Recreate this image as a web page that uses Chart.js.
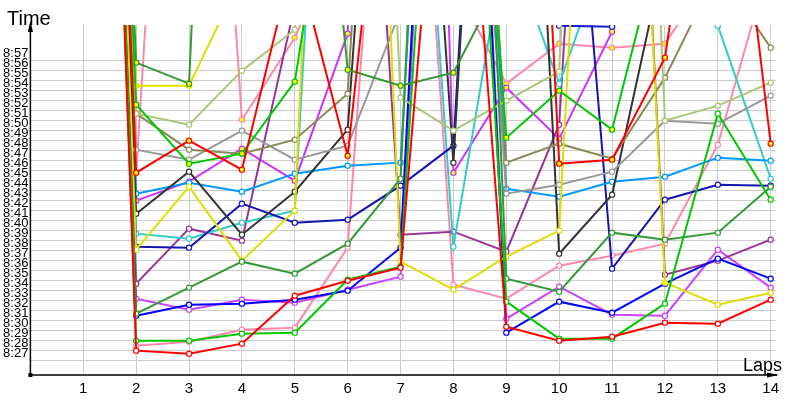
<!DOCTYPE html>
<html>
<head>
<meta charset="utf-8">
<script src="https://cdn.jsdelivr.net/npm/chart.js@4.4.0/dist/chart.umd.min.js"></script>
<style>
html,body{margin:0;padding:0;background:#fff;}
canvas{display:block;}
</style>
</head>
<body>
<canvas id="c" width="800" height="400"></canvas>
<script>
// Laps (x categories) and y tick values (lap time in seconds, shown as m:ss)
const laps = [1,2,3,4,5,6,7,8,9,10,11,12,13,14];
const yTickValues = [507,508,509,510,511,512,513,514,515,516,517,518,519,520,521,522,523,524,525,526,527,528,529,530,531,532,533,534,535,536,537];

// Lap times in seconds per competitor (values above 540 run off the top of the chart)
const redA     = [655, 508.0, 507.7, 508.7, 513.5, 515.0, 516.3, 579, 510.4, 509.0, 509.4, 510.8, 510.7, 513.1];
const redB     = [655, 525.8, 529.0, 526.1, 547.8, 527.5, 576.6, 600, 631.5, 526.7, 527.1, 537.3, 573, 528.7];
const green    = [655, 532.6, 526.7, 527.7, 534.9, 568.4, 600, 600, 529.3, 534.0, 530.1, 550.9, 600, 600];
const green2   = [655, 509.0, 509.0, 509.7, 509.8, 515.1, 516.4, 600, 512.9, 509.2, 509.2, 512.7, 531.7, 523.1];
const dkGreen  = [655, 536.8, 534.7, 650, 590, 536.1, 534.5, 535.8, 546, 600, 600, 600, 600, 600];
const dkGreen2 = [655, 511.7, 514.3, 516.9, 515.7, 518.7, 525.2, 640, 515.2, 513.9, 519.8, 519.1, 519.8, 524.4];
const yellow   = [655, 534.5, 534.5, 545.5, 600, 600, 600, 600, 600, 600, 600, 600, 600, 600];
const yellow2  = [655, 518.1, 524.4, 517.0, 522.0, 640, 516.9, 514.1, 517.4, 520.0, 620, 514.8, 512.6, 513.8];
const ltOlive  = [655, 531.7, 530.6, 536.0, 540.1, 650, 533.3, 530.0, 533.0, 535.9, 650, 531.0, 532.5, 534.8];
const olive    = [655, 531.7, 528.1, 527.7, 529.1, 533.7, 620, 620, 526.8, 528.7, 527.2, 535.3, 546, 538.3];
const gray     = [655, 528.1, 527.1, 530.0, 527.1, 528.5, 542, 600, 523.7, 524.6, 525.9, 531.0, 530.7, 533.5];
const dkGray   = [655, 521.7, 525.9, 519.6, 523.9, 530.1, 605, 526.8, 620, 517.7, 523.6, 547.8, 570, 570];
const azure    = [655, 523.7, 524.8, 523.9, 525.7, 526.5, 526.8, 620, 524.2, 523.4, 524.9, 525.4, 527.3, 527.0];
const navy     = [655, 518.4, 518.3, 522.7, 520.8, 521.1, 524.5, 528.5, 620, 580, 516.2, 523.1, 524.6, 524.5];
const blue     = [655, 511.5, 512.6, 512.7, 513.1, 514.0, 518.3, 620, 509.8, 512.9, 511.8, 514.7, 517.2, 515.2];
const blue3    = [655, 600, 600, 600, 600, 600, 600, 600, 600, 540.5, 540.4, 600, 600, 600];
const cyan     = [655, 519.7, 519.2, 520.8, 522.0, 615, 593, 518.4, 549.5, 534.7, 549.5, 560, 540.5, 525.2];
const purple   = [655, 514.7, 520.2, 519.0, 542.5, 600, 519.6, 519.9, 517.9, 530.6, 620, 515.6, 517.0, 519.1];
const violet   = [655, 523.0, 524.9, 528.2, 525.0, 539.7, 700, 525.8, 534.3, 529.2, 539.9, 600, 600, 600];
const violet2  = [655, 513.2, 512.1, 513.1, 512.8, 514.1, 515.4, 620, 511.2, 514.4, 511.6, 511.5, 518.1, 514.3];
const pink     = [655, 508.5, 508.9, 510.1, 510.3, 518.3, 592, 514.6, 513.2, 516.5, 517.5, 518.7, 528.6, 547.2];
const pink2    = [655, 525.8, 610, 531.1, 539.3, 551, 580, 544.8, 534.7, 538.7, 538.3, 538.7, 546.6, 580];

const W = '#ffffff', Y = '#ffff00';
const seriesDefs = [
  [redA, '#ff0000', W], [redB, '#ff0000', Y], [green, '#00c800', Y], [green2, '#00c800', W],
  [dkGreen, '#339933', Y], [dkGreen2, '#339933', W], [yellow, '#dede00', Y],
  [yellow2, '#dede00', laps.map(l => (l === 4 || l === 12) ? Y : W)],
  [ltOlive, '#a8c878', W], [olive, '#8a8a55', W], [gray, '#999999', W], [dkGray, '#333333', W],
  [azure, '#0099ff', W], [navy, '#1515b0', W], [blue, '#0000ff', W], [blue3, '#1a1ad0', W],
  [cyan, '#33cccc', W], [purple, '#993399', W], [violet, '#cc33ff', Y], [violet2, '#cc44ff', W],
  [pink, '#ff88aa', W], [pink2, '#ff88aa', Y]
];

const datasets = seriesDefs.map(([arr, col, fill], i) => ({
  label: 'S' + (i + 1),
  data: laps.map((l, k) => ({ x: l, y: arr[k] })),
  borderColor: col,
  backgroundColor: col,
  borderWidth: 2,
  pointRadius: 2.6,
  pointBorderWidth: 1.2,
  pointBorderColor: col,
  pointBackgroundColor: fill,
  tension: 0,
  fill: false
}));

const axesPlugin = {
  id: 'axesPlugin',
  afterDraw(chart) {
    const ctx = chart.ctx, a = chart.chartArea;
    ctx.save();
    ctx.strokeStyle = '#000';
    ctx.fillStyle = '#000';
    ctx.lineWidth = 1.5;
    ctx.beginPath();
    ctx.moveTo(a.left, 24); ctx.lineTo(a.left, a.bottom);
    ctx.lineTo(777, a.bottom);
    ctx.stroke();
    // y arrow
    ctx.beginPath();
    ctx.moveTo(a.left, 21); ctx.lineTo(a.left - 2.6, 32); ctx.lineTo(a.left + 2.6, 32); ctx.closePath(); ctx.fill();
    // x arrow
    ctx.beginPath();
    ctx.moveTo(779, a.bottom); ctx.lineTo(767, a.bottom - 2.6); ctx.lineTo(767, a.bottom + 2.6); ctx.closePath(); ctx.fill();
    ctx.fillRect(a.left - 2, a.bottom - 2, 4, 4);
    ctx.font = '20px "Liberation Sans", Arial, sans-serif';
    ctx.textBaseline = 'alphabetic';
    ctx.fillText('Time', 7, 25);
    ctx.font = '18px "Liberation Sans", Arial, sans-serif';
    ctx.fillText('Laps', 743, 371);
    ctx.restore();
  }
};

const fmt = v => Math.floor(v / 60) + ':' + String(Math.round(v % 60)).padStart(2, '0');

new Chart(document.getElementById('c'), {
  type: 'line',
  data: { datasets },
  options: {
    responsive: false,
    animation: false,
    devicePixelRatio: 1,
    layout: { padding: { top: 25, right: 24, left: 0, bottom: 0 } },
    plugins: { legend: { display: false }, tooltip: { enabled: false } },
    scales: {
      x: {
        type: 'linear', min: 0, max: 14.1,
        afterBuildTicks: s => { s.ticks = laps.map(v => ({ value: v })); },
        afterFit: s => { s.height = 25; },
        grid: { color: '#cccccc', lineWidth: 1, drawTicks: false },
        border: { display: false },
        ticks: { padding: 5, autoSkip: false, maxRotation: 0, color: '#000',
                 font: { family: '"Liberation Sans", Arial, sans-serif', size: 15 } }
      },
      y: {
        type: 'linear', min: 505.567, max: 540.567,
        afterBuildTicks: s => { s.ticks = yTickValues.map(v => ({ value: v })); },
        afterFit: s => { s.width = 30.4; },
        grid: { color: '#cccccc', lineWidth: 1, drawTicks: false },
        border: { display: false },
        ticks: { padding: 2, labelOffset: -7, autoSkip: false, color: '#000',
                 font: { family: '"Liberation Sans", Arial, sans-serif', size: 13 },
                 callback: v => fmt(v) }
      }
    }
  },
  plugins: [axesPlugin]
});
</script>
</body>
</html>
